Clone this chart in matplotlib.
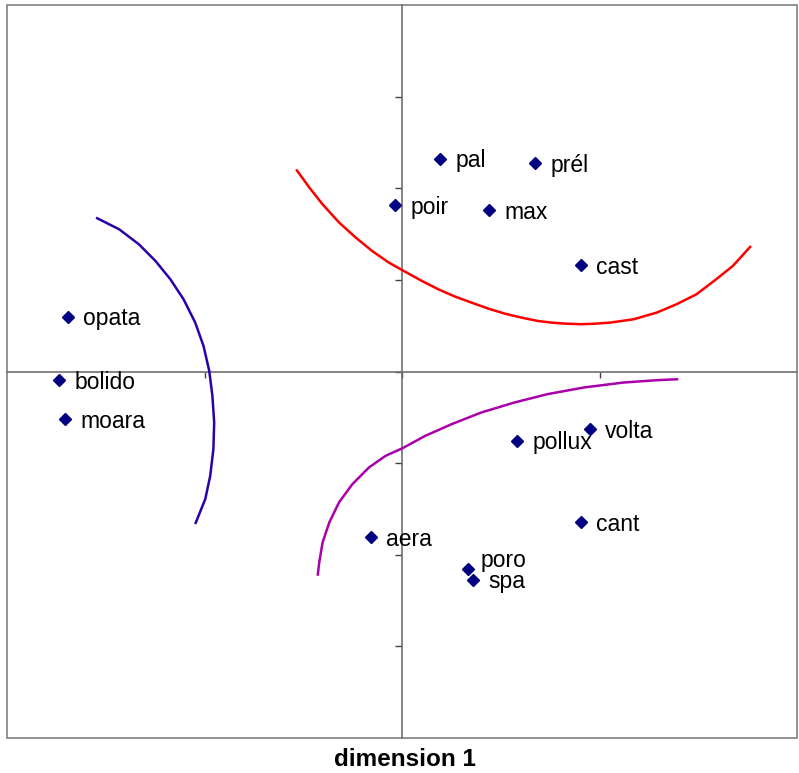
import matplotlib
matplotlib.use("Agg")
import matplotlib.pyplot as plt
from matplotlib.patches import Rectangle

plt.rcParams['font.family'] = ['Liberation Sans', 'DejaVu Sans']

# ---- data ----
labels = ["pal", "prél", "poir", "max", "cast", "opata", "bolido", "moara",
          "pollux", "volta", "cant", "aera", "poro", "spa"]
dim1 = [0.193, 0.673, -0.033, 0.439, 0.905, -1.691, -1.737, -1.704,
        0.583, 0.952, 0.905, -0.159, 0.335, 0.360]
dim2 = [2.323, 2.272, 1.817, 1.762, 1.159, 0.600, -0.092, -0.520,
        -0.757, -0.629, -1.647, -1.810, -2.156, -2.276]

red_x = [-0.536, -0.469, -0.402, -0.318, -0.234, -0.151, -0.067, 0.009, 0.101, 0.184,
         0.268, 0.352, 0.436, 0.520, 0.603, 0.687, 0.754, 0.830, 0.905, 0.980, 1.055,
         1.173, 1.290, 1.390, 1.491, 1.591, 1.675, 1.767]
red_y = [2.206, 2.007, 1.824, 1.625, 1.461, 1.315, 1.189, 1.097, 0.988, 0.897,
         0.818, 0.752, 0.687, 0.632, 0.589, 0.552, 0.534, 0.522, 0.516, 0.522, 0.534,
         0.570, 0.643, 0.734, 0.843, 1.007, 1.152, 1.370]

blue_x = [-1.549, -1.432, -1.332, -1.248, -1.173, -1.106, -1.047, -1.005, -0.976,
          -0.960, -0.951, -0.955, -0.971, -0.996, -1.047]
blue_y = [1.679, 1.552, 1.388, 1.206, 1.007, 0.788, 0.534, 0.279, 0.007,
          -0.266, -0.556, -0.847, -1.138, -1.392, -1.665]

purple_x = [-0.427, -0.419, -0.402, -0.368, -0.319, -0.251, -0.167, -0.083, 0.000,
            0.118, 0.251, 0.402, 0.570, 0.737, 0.922, 1.123, 1.290, 1.399]
purple_y = [-2.229, -2.083, -1.865, -1.647, -1.429, -1.229, -1.047, -0.920, -0.840,
            -0.702, -0.575, -0.447, -0.338, -0.247, -0.174, -0.120, -0.095, -0.084]

xticks = [-1, 0, 1]
yticks = [-3, -2, -1, 0, 1, 2, 3]
xlabel = "dimension 1"

# label offsets in points (layout, not data)
default_offset = (11, -1.5)
special_offset = {"poro": (9, 6.5), "spa": (11, -1)}

# ---- figure ----
fig = plt.figure(figsize=(7.99, 7.73), dpi=100)
ax = fig.add_axes([7/799, 35/773, 790/799, 733/773])
ax.set_xlim(-2, 2)
ax.set_ylim(-4, 4)

for s in ['top', 'right']:
    ax.spines[s].set_visible(False)
ax.spines['left'].set_position('zero')
ax.spines['bottom'].set_position('zero')
for s in ['left', 'bottom']:
    ax.spines[s].set_color('#707070')
    ax.spines[s].set_linewidth(1.2)
ax.add_patch(Rectangle((0, 0), 1, 1, transform=ax.transAxes, fill=False,
                       edgecolor='#808080', linewidth=1.2, clip_on=False, zorder=0))

ax.set_xticks(xticks)
ax.set_yticks(yticks)
ax.set_xticklabels([])
ax.set_yticklabels([])
ax.tick_params(axis='x', direction='out', length=4.5, width=1, color='#404040')
ax.tick_params(axis='y', direction='out', length=5, width=1, color='#404040')

kw = dict(lw=1.8, solid_capstyle='butt', solid_joinstyle='round', zorder=3)
ax.plot(red_x, red_y, color='#FF0000', **kw)
ax.plot(blue_x, blue_y, color='#2A00A8', **kw)
ax.plot(purple_x, purple_y, color='#AA00AA', **kw)

ax.plot(dim1, dim2, linestyle='none', marker='D', markersize=6,
        color='#000080', zorder=4)
for lab, x, y in zip(labels, dim1, dim2):
    off = special_offset.get(lab, default_offset)
    ax.annotate(lab, (x, y), xytext=off, textcoords='offset points',
                va='center', ha='left', fontsize=16.5, color='black', zorder=5)

fig.text(405/799, 1 - 760/773, xlabel, ha='center', va='center',
         fontsize=17.5, fontweight='bold')

fig.savefig('out.png', dpi=100)
